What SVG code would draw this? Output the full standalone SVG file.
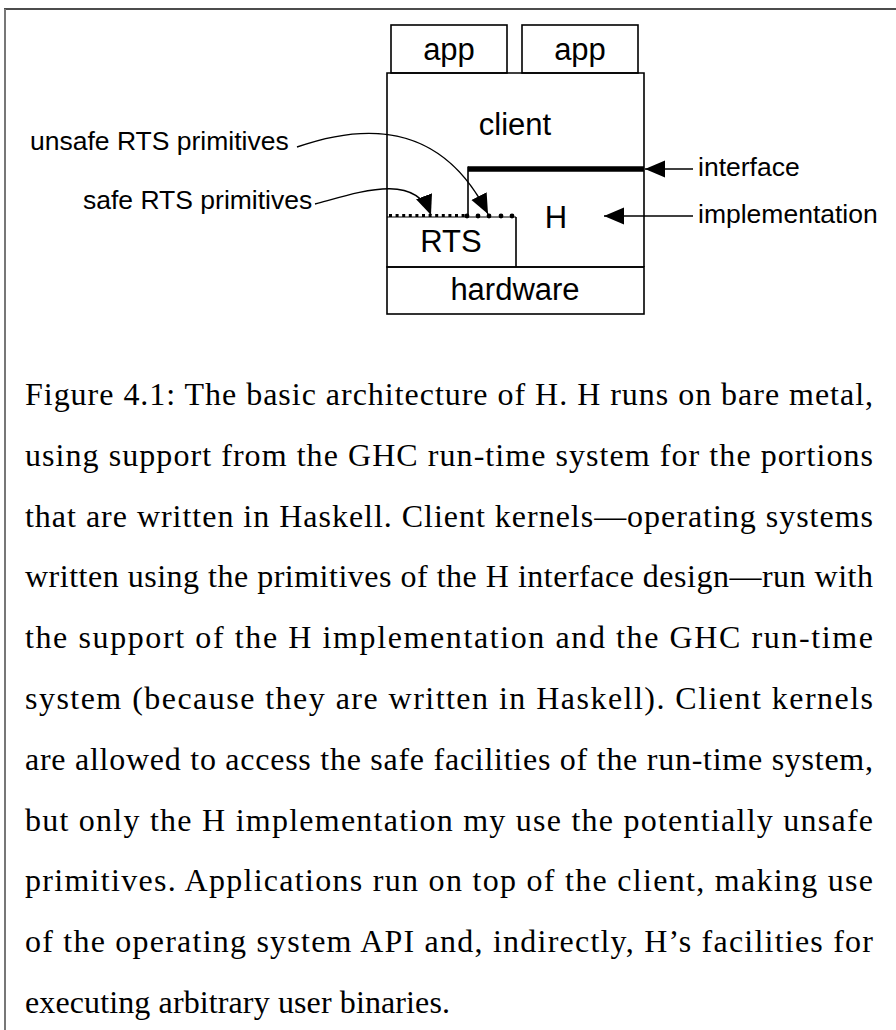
<svg xmlns="http://www.w3.org/2000/svg" width="896" height="1030" viewBox="0 0 896 1030">
  <defs>
    <style>
      .box { fill: none; stroke: #000; stroke-width: 1.6; }
      .lbl { font-family: "Liberation Sans", Arial, sans-serif; font-size: 31px; fill: #000; text-anchor: middle; }
      .side { font-family: "Liberation Sans", Arial, sans-serif; font-size: 26.5px; fill: #000; }
      .conn { fill: none; stroke: #000; stroke-width: 1.4; }
      .cap { font-family: "Liberation Serif", "Times New Roman", serif; font-size: 32px; fill: #000; }
    </style>
    <marker id="ah" markerUnits="userSpaceOnUse" markerWidth="22" markerHeight="20" refX="20" refY="8.5" orient="auto">
      <path d="M0,0 L20,8.5 L0,17 z" fill="#000"/>
    </marker>
  </defs>
  <rect width="896" height="1030" fill="#fff"/>
  <!-- frame -->
  <g id="frame">
    <line x1="4" y1="9" x2="896" y2="9" stroke="#111" stroke-width="1.6"/>
    <line x1="5" y1="9" x2="5" y2="1030" stroke="#777" stroke-width="2"/>
  </g>
  <!-- nodes -->
  <g id="app1">
    <rect class="box" x="391" y="25" width="116" height="48"/>
    <text class="lbl" x="449" y="60">app</text>
  </g>
  <g id="app2">
    <rect class="box" x="522" y="25" width="116" height="48"/>
    <text class="lbl" x="580" y="60">app</text>
  </g>
  <g id="client">
    <path class="box" d="M387,217 L387,73 L644,73 L644,267"/>
    <text class="lbl" x="515" y="135">client</text>
  </g>
  <g id="H">
    <line x1="468" y1="169" x2="644" y2="169" stroke="#000" stroke-width="5.5"/>
    <line x1="468" y1="166.5" x2="468" y2="217" stroke="#000" stroke-width="1.6"/>
    <text class="lbl" x="556" y="228">H</text>
  </g>
  <g id="RTS">
    <path class="box" d="M387,217 L387,267 L644,267 M516,217 L516,267"/>
    <line x1="387" y1="217" x2="516" y2="217" stroke="#000" stroke-width="1"/>
    <line x1="389" y1="215.5" x2="466" y2="215.5" stroke="#000" stroke-width="3" stroke-dasharray="3 3.6"/>
    <g fill="#000">
      <circle cx="467" cy="216" r="2.4"/>
      <circle cx="478" cy="216" r="2.4"/>
      <circle cx="489" cy="216" r="2.4"/>
      <circle cx="501" cy="216" r="2.4"/>
      <circle cx="512" cy="216" r="2.4"/>
    </g>
    <text class="lbl" x="451" y="252">RTS</text>
  </g>
  <g id="hardware">
    <rect class="box" x="387" y="267" width="257" height="47"/>
    <text class="lbl" x="515" y="300">hardware</text>
  </g>
  <!-- side labels -->
  <g id="label-unsafe"><text class="side" x="30" y="150">unsafe RTS primitives</text></g>
  <g id="label-safe"><text class="side" x="83" y="209">safe RTS primitives</text></g>
  <g id="label-interface"><text class="side" x="698" y="176">interface</text></g>
  <g id="label-implementation"><text class="side" x="698" y="223">implementation</text></g>
  <!-- connectors -->
  <g id="connectors">
    <path class="conn" d="M297,147 C360,125 440,118 488,214" marker-end="url(#ah)"/>
    <path class="conn" d="M315,204 C360,192 415,172 431,215" marker-end="url(#ah)"/>
    <line class="conn" x1="693" y1="169" x2="645" y2="169" marker-end="url(#ah)"/>
    <line class="conn" x1="693" y1="216" x2="604" y2="216" marker-end="url(#ah)"/>
  </g>
  <!-- caption -->
  <g id="caption" class="cap">
    <text x="25" y="405" textLength="848" lengthAdjust="spacing">Figure 4.1: The basic architecture of H. H runs on bare metal,</text>
    <text x="25" y="465.8" textLength="848" lengthAdjust="spacing">using support from the GHC run-time system for the portions</text>
    <text x="25" y="526.6" textLength="848" lengthAdjust="spacing">that are written in Haskell. Client kernels—operating systems</text>
    <text x="25" y="587.4" textLength="848" lengthAdjust="spacing">written using the primitives of the H interface design—run with</text>
    <text x="25" y="648.2" textLength="848" lengthAdjust="spacing">the support of the H implementation and the GHC run-time</text>
    <text x="25" y="709" textLength="848" lengthAdjust="spacing">system (because they are written in Haskell). Client kernels</text>
    <text x="25" y="769.8" textLength="848" lengthAdjust="spacing">are allowed to access the safe facilities of the run-time system,</text>
    <text x="25" y="830.6" textLength="848" lengthAdjust="spacing">but only the H implementation my use the potentially unsafe</text>
    <text x="25" y="891.4" textLength="848" lengthAdjust="spacing">primitives. Applications run on top of the client, making use</text>
    <text x="25" y="952.2" textLength="848" lengthAdjust="spacing">of the operating system API and, indirectly, H’s facilities for</text>
    <text x="25" y="1013" textLength="425" lengthAdjust="spacing">executing arbitrary user binaries.</text>
  </g>
</svg>
